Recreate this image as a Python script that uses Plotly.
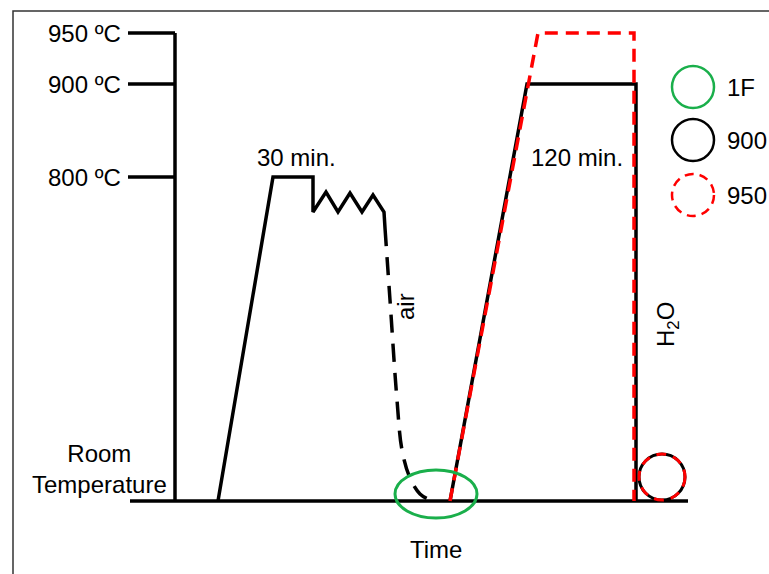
import plotly.graph_objects as go

# schematic units: x = time (arbitrary), y = temperature level (arbitrary, RT = 0)
tick_labels = ["950 ºC", "900 ºC", "800 ºC"]
tick_levels = [468, 417, 324]
rt_level = 0

# first treatment: heat to 800 ºC, hold 30 min, oscillate, then air cool
t_first = [218, 273, 313, 313, 326, 338, 350, 362, 373, 384, 385]
T_first = [0, 324, 324, 289, 309, 289, 308, 289, 306, 289, 273]
t_air = [385, 390, 397, 402, 410, 420, 430]
T_air = [273, 201, 101, 51, 23, 7, 1]

# second treatment: 900 ºC and 950 ºC for 120 min, water quench
t_900 = [450, 527, 636, 636]
T_900 = [0, 417, 417, 0]
t_950 = [450, 538, 634, 634]
T_950 = [0, 468, 468, 0]

axis_x = 175
tick_x0 = 128
base_end = 688

legend_names = ["1F", "900", "950"]
legend_levels = [414, 361, 306]
legend_colors = ["#1aaf4b", "black", "red"]
legend_dash = ["solid", "solid", "dash"]

FONT = "Liberation Sans, Arial, sans-serif"
LW = 3.5

fig = go.Figure()

# y axis and ticks
ax_x, ax_y = [axis_x, axis_x], [max(tick_levels), rt_level]
for lv in tick_levels:
    ax_x += [None, tick_x0, axis_x]
    ax_y += [None, lv, lv]
ax_x += [None, 130, base_end]
ax_y += [None, rt_level, rt_level]
fig.add_trace(go.Scatter(x=ax_x, y=ax_y, mode="lines",
                         line=dict(color="black", width=LW), hoverinfo="skip"))

fig.add_trace(go.Scatter(x=t_first, y=T_first, mode="lines",
                         line=dict(color="black", width=LW)))
fig.add_trace(go.Scatter(x=t_air, y=T_air, mode="lines", line_shape="spline",
                         line=dict(color="black", width=LW, dash="18px,11px")))
fig.add_trace(go.Scatter(x=t_900, y=T_900, mode="lines",
                         line=dict(color="black", width=LW)))
fig.add_trace(go.Scatter(x=t_950, y=T_950, mode="lines",
                         line=dict(color="red", width=LW, dash="13px,8px")))

shapes = []
# frame
shapes.append(dict(type="rect", xref="x", yref="y", x0=13, x1=820, y0=-120, y1=490,
                   line=dict(color="#333", width=1.5), layer="below"))
# green ellipse
shapes.append(dict(type="circle", xref="x", yref="y", x0=395, x1=477, y0=-17, y1=31,
                   line=dict(color=legend_colors[0], width=3)))
# quench circle
shapes.append(dict(type="circle", xref="x", yref="y", x0=639, x1=685, y0=1, y1=47,
                   line=dict(color="black", width=3)))
shapes.append(dict(type="circle", xref="x", yref="y", x0=639, x1=685, y0=1, y1=47,
                   line=dict(color="red", width=3, dash="10px,7px")))
# legend circles
for lv, c, d in zip(legend_levels, legend_colors, legend_dash):
    shapes.append(dict(type="circle", xref="x", yref="y", x0=672, x1=714,
                       y0=lv - 21, y1=lv + 21,
                       line=dict(color=c, width=2.5, dash="9px,6px" if d == "dash" else "solid")))

ann = []
def txt(x, y, s, xanchor="center", angle=0):
    ann.append(dict(x=x, y=y, xref="x", yref="y", text=s, showarrow=False,
                    xanchor=xanchor, yanchor="middle", textangle=angle,
                    font=dict(family=FONT, size=24, color="black")))

for lab, lv in zip(tick_labels, tick_levels):
    txt(123, lv, lab, xanchor="right")
txt(99, 32, "Room<br>Temperature")
txt(296, 344, "30 min.")
txt(577, 344, "120 min.")
txt(405, 194, "air", angle=-90)
txt(667, 176, "H<sub>2</sub>O", angle=-90)
txt(436, -48, "Time")
for nm, lv in zip(legend_names, legend_levels):
    txt(725, lv, nm, xanchor="left")

fig.update_layout(
    width=769, height=574, margin=dict(l=0, r=0, t=0, b=0),
    paper_bgcolor="white", plot_bgcolor="white", showlegend=False,
    shapes=shapes, annotations=ann,
    xaxis=dict(range=[0, 769], visible=False, fixedrange=True),
    yaxis=dict(range=[-73, 501], visible=False, fixedrange=True),
)

fig.write_html("out.html", config={"displayModeBar": False},
               post_script="document.body.style.margin='0';document.body.style.overflow='hidden';")
